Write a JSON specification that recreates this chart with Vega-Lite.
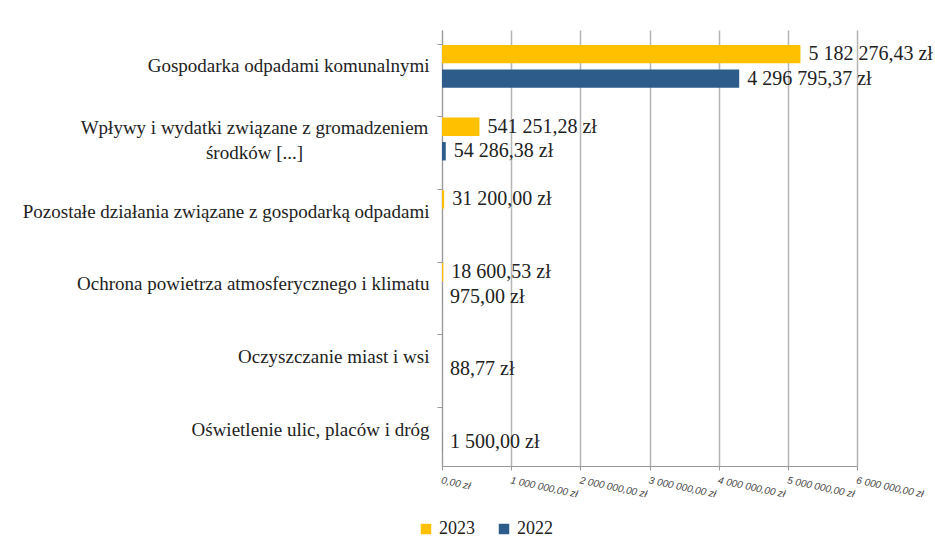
{
  "$schema": "https://vega.github.io/schema/vega-lite/v6.json",
  "width": 415,
  "height": 436,
  "padding": {"top": 30, "left": 22, "right": 5, "bottom": 5},
  "config": {
    "locale": {"number": {"decimal": ",", "thousands": " ", "grouping": [3], "currency": ["", " zł"]}},
    "view": {"stroke": null},
    "font": "Liberation Serif"
  },
  "data": {
    "values": [
      {"kategoria": "Gospodarka odpadami komunalnymi", "rok": "2023", "wartosc": 5182276.43},
      {"kategoria": "Gospodarka odpadami komunalnymi", "rok": "2022", "wartosc": 4296795.37},
      {"kategoria": "Wpływy i wydatki związane z gromadzeniem|środków [...]", "rok": "2023", "wartosc": 541251.28},
      {"kategoria": "Wpływy i wydatki związane z gromadzeniem|środków [...]", "rok": "2022", "wartosc": 54286.38},
      {"kategoria": "Pozostałe działania związane z gospodarką odpadami", "rok": "2023", "wartosc": 31200.00},
      {"kategoria": "Ochrona powietrza atmosferycznego i klimatu", "rok": "2023", "wartosc": 18600.53},
      {"kategoria": "Ochrona powietrza atmosferycznego i klimatu", "rok": "2022", "wartosc": 975.00},
      {"kategoria": "Oczyszczanie miast i wsi", "rok": "2022", "wartosc": 88.77},
      {"kategoria": "Oświetlenie ulic, placów i dróg", "rok": "2022", "wartosc": 1500.00}
    ]
  },
  "encoding": {
    "y": {
      "field": "kategoria",
      "type": "nominal",
      "sort": [
        "Gospodarka odpadami komunalnymi",
        "Wpływy i wydatki związane z gromadzeniem|środków [...]",
        "Pozostałe działania związane z gospodarką odpadami",
        "Ochrona powietrza atmosferycznego i klimatu",
        "Oczyszczanie miast i wsi",
        "Oświetlenie ulic, placów i dróg"
      ],
      "scale": {"paddingInner": 0.39, "paddingOuter": 0.195},
      "axis": {
        "title": null,
        "labelFont": "Liberation Serif",
        "labelFontSize": 19,
        "labelColor": "#222",
        "labelLimit": 0,
        "labelLineHeight": 25,
        "labelExpr": "split(datum.label, '|')",
        "labelOffset": {"condition": {"test": "indexof(datum.value, '|') >= 0", "value": -11}, "value": 0},
        "labelAlign": {"condition": {"test": "indexof(datum.value, '|') >= 0", "value": "center"}, "value": "right"},
        "labelPadding": {"condition": {"test": "indexof(datum.value, '|') >= 0", "value": 183}, "value": 8},
        "bandPosition": 0,
        "tickSize": 5,
        "tickColor": "#999",
        "domainColor": "#999",
        "grid": false
      }
    },
    "yOffset": {
      "field": "rok",
      "type": "nominal",
      "scale": {"domain": ["2023", "2022"], "paddingInner": 0.25, "paddingOuter": 0.03}
    }
  },
  "layer": [
    {
      "mark": {"type": "bar"},
      "encoding": {
        "x": {
          "field": "wartosc",
          "type": "quantitative",
          "scale": {"domain": [0, 6000000], "nice": false},
          "axis": {
            "title": null,
            "values": [0, 1000000, 2000000, 3000000, 4000000, 5000000, 6000000],
            "format": "$,.2f",
            "labelFont": "Liberation Sans",
            "labelFontSize": 10,
            "labelFontStyle": "italic",
            "labelColor": "#444",
            "labelAngle": 12,
            "labelAlign": "left",
            "labelBaseline": "top",
            "labelPadding": 5,
            "labelOverlap": false,
            "labelFlush": false,
            "labelBound": false,
            "grid": true,
            "gridColor": "#b5b5b5",
            "gridWidth": 1.5,
            "tickColor": "#999",
            "tickSize": 4,
            "domainColor": "#999"
          }
        },
        "color": {
          "field": "rok",
          "type": "nominal",
          "scale": {"domain": ["2023", "2022"], "range": ["#FFC000", "#2E5C8A"]},
          "legend": {
            "title": null,
            "orient": "none",
            "direction": "horizontal",
            "legendX": -25,
            "legendY": 490,
            "symbolType": "square",
            "symbolSize": 110,
            "symbolStrokeWidth": 0,
            "labelFont": "Liberation Serif",
            "labelFontSize": 18,
            "labelColor": "#222",
            "columnPadding": 20
          }
        }
      }
    },
    {
      "mark": {"type": "text", "align": "left", "baseline": "middle", "dx": 8, "fontSize": 20, "font": "Liberation Serif", "color": "#222"},
      "encoding": {
        "x": {"field": "wartosc", "type": "quantitative"},
        "text": {"field": "wartosc", "type": "quantitative", "format": "$,.2f"}
      }
    }
  ]
}
